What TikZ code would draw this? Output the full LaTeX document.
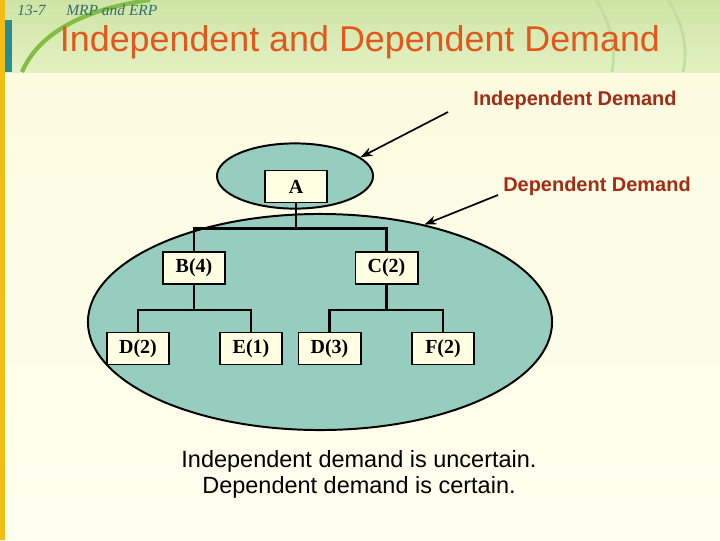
\documentclass[tikz,border=0pt]{standalone}
\usepackage{fontspec}
\setmainfont{Liberation Serif}
\setsansfont{Liberation Sans}
\usetikzlibrary{positioning,arrows.meta,shapes.geometric,calc}
\definecolor{hdrtop}{RGB}{206,228,165}
\definecolor{hdrlow}{RGB}{228,241,194}
\definecolor{creamhi}{RGB}{252,251,224}
\definecolor{creamlo}{RGB}{255,255,240}
\definecolor{titleorange}{RGB}{226,88,28}
\definecolor{labelred}{RGB}{162,44,20}
\definecolor{poolfill}{RGB}{150,205,191}
\definecolor{boxfill}{RGB}{255,255,226}
\definecolor{hdrtext}{RGB}{50,110,110}
\definecolor{barteal}{RGB}{40,140,150}
\definecolor{baryellow}{RGB}{240,190,20}
\definecolor{arcgreen}{RGB}{130,190,70}
\tikzset{
  hdr/.style={inner sep=0pt,text=hdrtext,font=\itshape\fontsize{11}{12}\selectfont},
  slidetitle/.style={inner sep=0pt,text=titleorange,font=\sffamily\fontsize{25.5}{28}\selectfont},
  pool/.style={ellipse,draw=black,line width=1.4pt,fill=poolfill,inner sep=0pt},
  part/.style={draw=black,line width=1.4pt,fill=boxfill,inner sep=0pt,
               minimum width=1.55cm,minimum height=0.8cm,
               font=\bfseries\fontsize{14.2}{16}\selectfont},
  treelink/.style={draw=black,line width=1.6pt},
  tag/.style={inner sep=0pt,text=labelred,font=\sffamily\bfseries\fontsize{14.2}{17}\selectfont},
  callout/.style={-{Stealth[length=3mm,width=2.2mm]},line width=1.2pt},
  note/.style={inner sep=0pt,align=center,font=\sffamily\fontsize{16.7}{18.4}\selectfont},
}

\begin{document}
\begin{tikzpicture}[x=0.025cm,y=-0.025cm]
  % ===== slide backdrop =====
  \useasboundingbox (0,0) rectangle (720,540);
  \fill[top color=creamhi,bottom color=creamlo] (0,72) rectangle (720,540);
  \fill[top color=hdrtop,bottom color=hdrlow] (0,0) rectangle (720,72);
  \draw[arcgreen,line width=3pt] (22,72) .. controls (40,30) and (90,8) .. (150,0);
  \draw[arcgreen!50,line width=2pt] (596,0) .. controls (612,25) and (616,50) .. (612,72);
  \draw[arcgreen!50,line width=2pt] (668,0) .. controls (684,25) and (688,50) .. (683,72);
  \fill[baryellow] (0,0) rectangle (5,540);
  \fill[barteal] (5,20) rectangle (12,72);

  \node[hdr,anchor=west] (chap)  at (17,10) {13-7};
  \node[hdr,anchor=west] (topic) at (66,10) {MRP and ERP};
  \node[slidetitle]      (ttl)   at (360,42) {Independent and Dependent Demand};

  % ===== demand pools =====
  \node[pool,minimum width=11.6cm,minimum height=5.4cm] (depPool) at (320,322) {};
  \node[pool,minimum width=3.9cm,minimum height=1.63cm] (indPool) at (295,176) {};

  % ===== product structure =====
  \node[part] (pA)  at (296,186.5) {A};
  \node[part] (pB)  at (194,268)   {B(4)};
  \node[part] (pC)  at (386.5,268) {C(2)};
  \node[part] (pD2) at (138,348.5) {D(2)};
  \node[part] (pE)  at (251,348.5) {E(1)};
  \node[part] (pD3) at (329.5,348.5) {D(3)};
  \node[part] (pF)  at (443,348.5) {F(2)};

  \draw[treelink] (pA.south) -- ++(0,25) coordinate (jA);
  \draw[treelink] (jA) -| (pB.north); \draw[treelink] (jA) -| (pC.north);
  \draw[treelink] (pB.south) -- ++(0,25) coordinate (jB);
  \draw[treelink] (jB) -| (pD2.north); \draw[treelink] (jB) -| (pE.north);
  \draw[treelink] (pC.south) -- ++(0,25) coordinate (jC);
  \draw[treelink] (jC) -| (pD3.north); \draw[treelink] (jC) -| (pF.north);

  % ===== callouts =====
  \node[tag] (indTag) at (575,100) {Independent Demand};
  \node[tag] (depTag) at (597,186) {Dependent Demand};
  \coordinate (indTail) at (448,112);
  \coordinate (depTail) at (498,195);
  \draw[callout] (indTail) -- (indPool.16);
  \draw[callout] (depTail) -- (depPool.43);

  \node[note] (summary) at (359,474)
       {Independent demand is uncertain.\\Dependent demand is certain.};
\end{tikzpicture}
\end{document}
